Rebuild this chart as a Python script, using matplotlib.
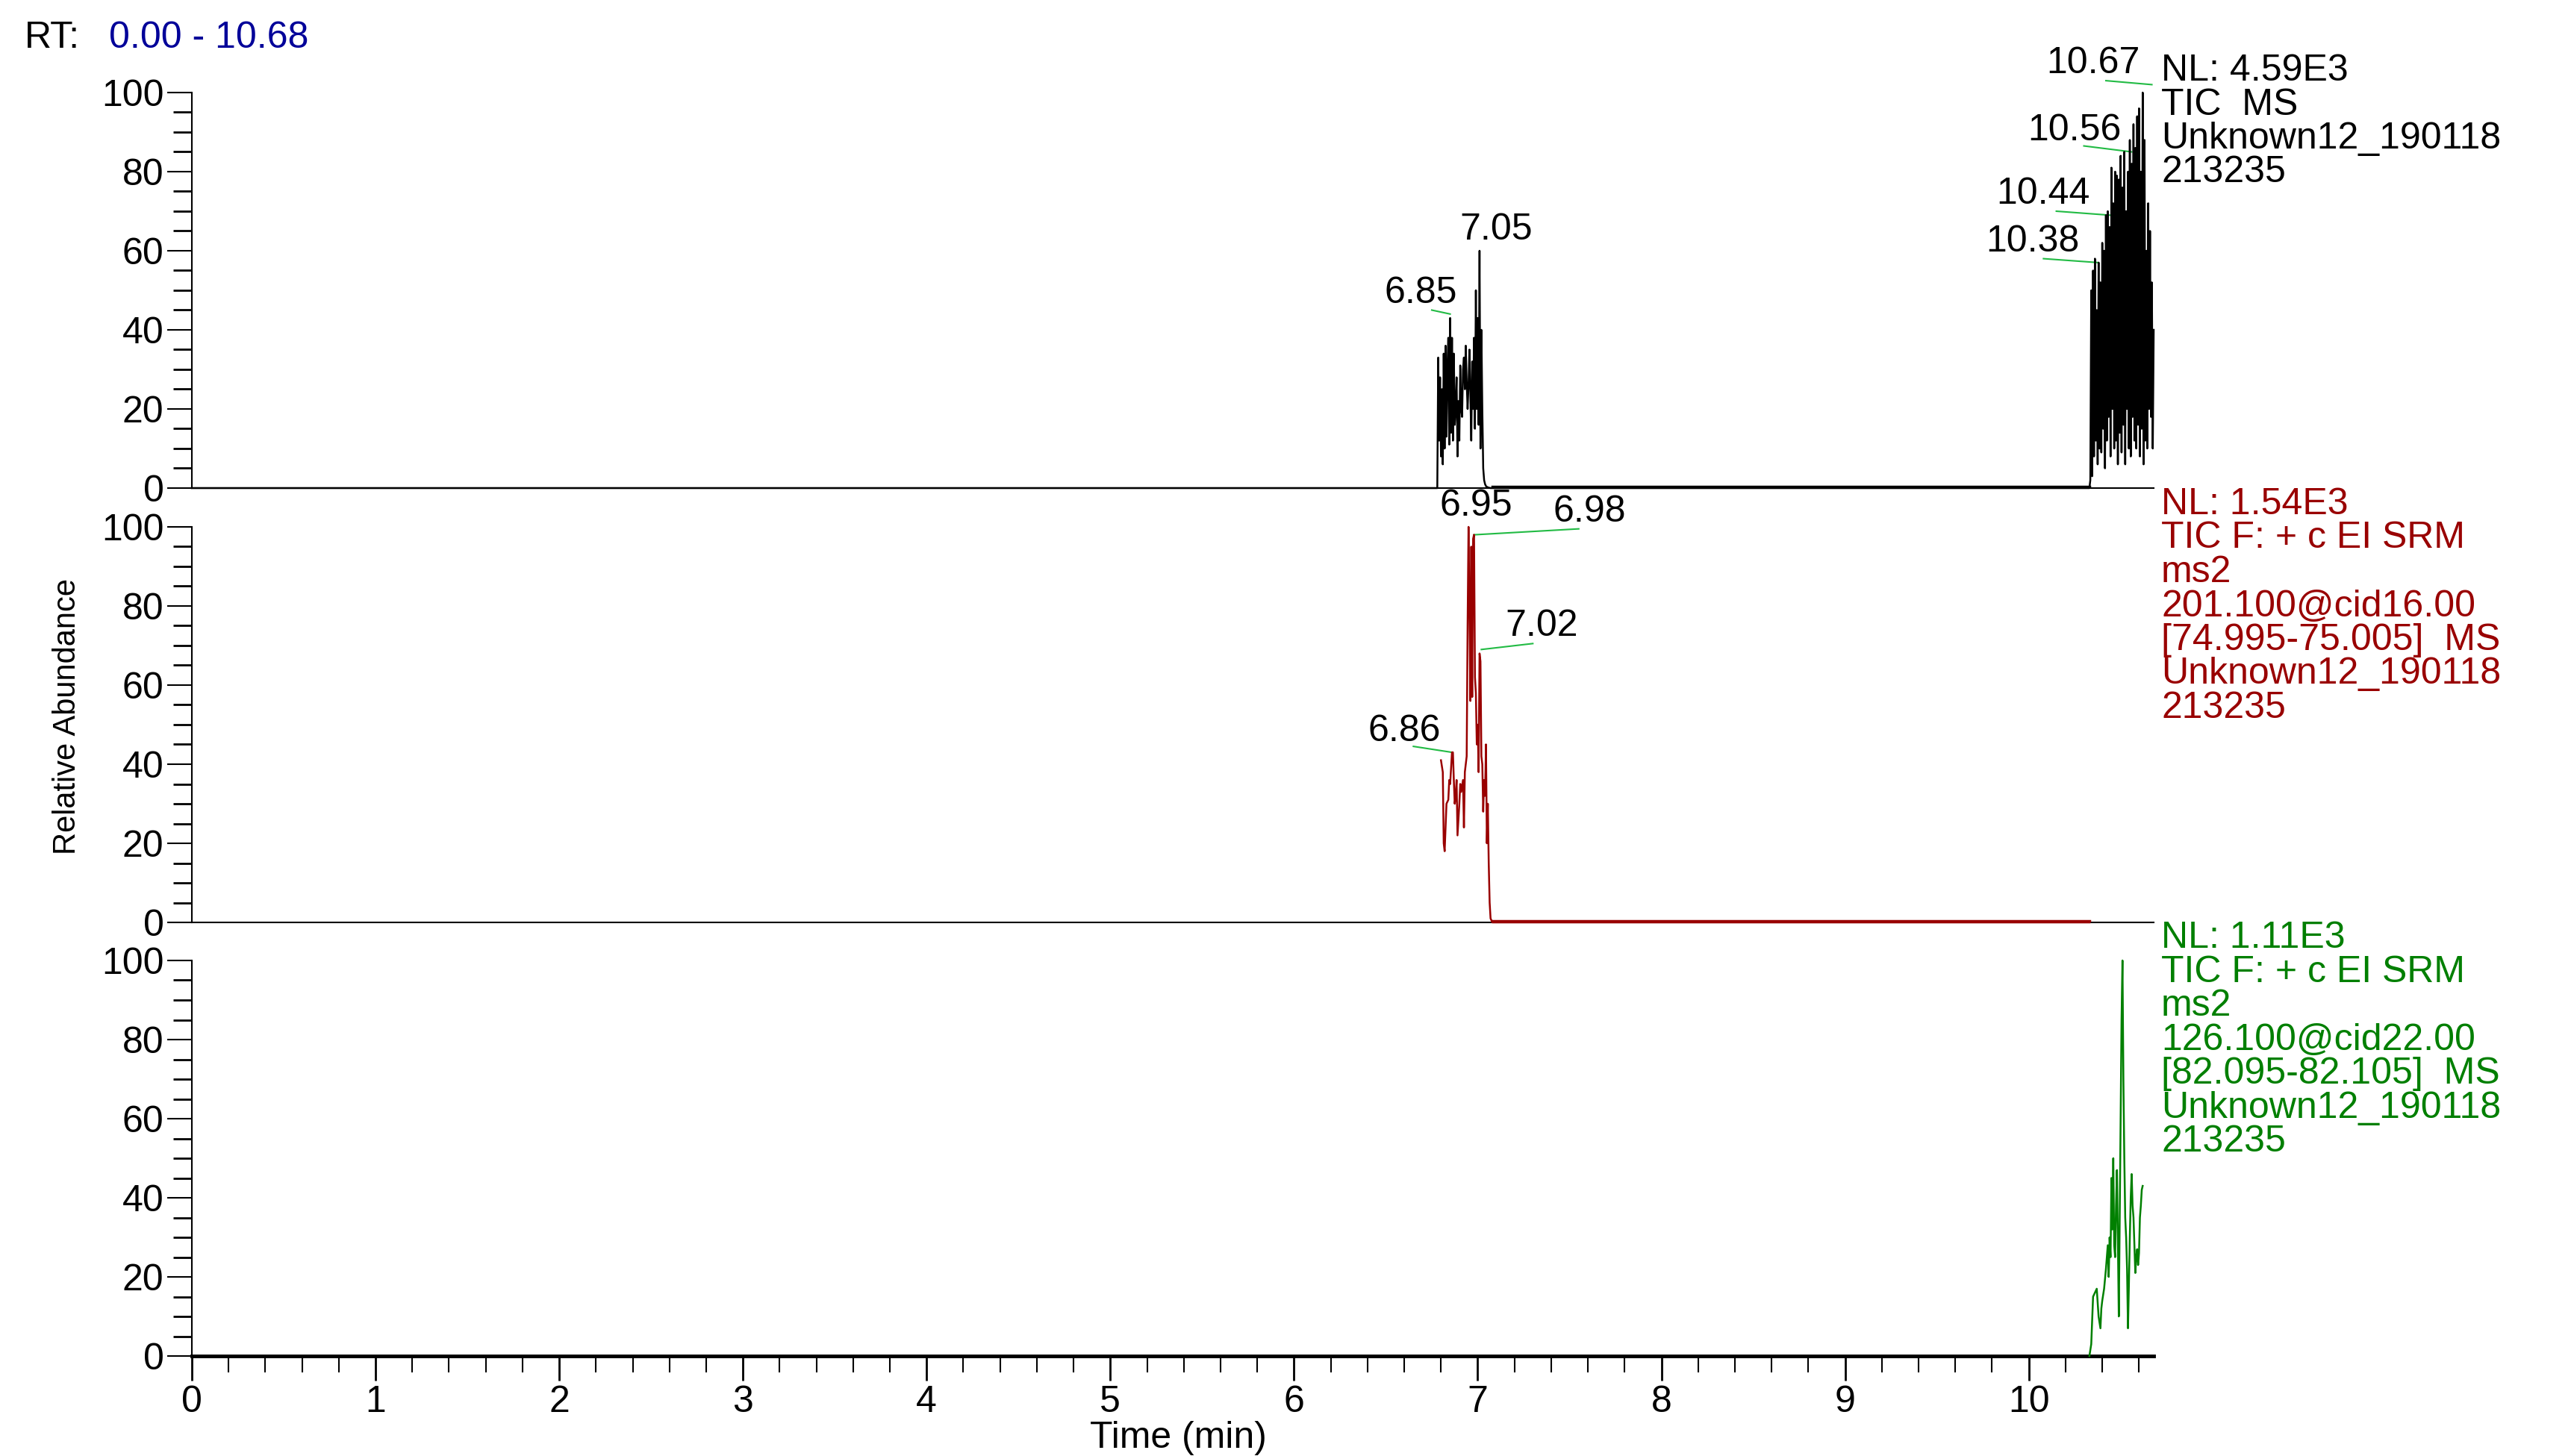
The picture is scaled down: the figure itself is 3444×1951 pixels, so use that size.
import matplotlib
matplotlib.use("Agg")
import matplotlib.pyplot as plt
from matplotlib.ticker import MultipleLocator

plt.rcParams['font.family'] = ['Liberation Sans', 'DejaVu Sans']

# ---- data ----
tic_t = [0.0, 6.78, 6.785, 6.79, 6.795, 6.80, 6.805, 6.81, 6.815, 6.82, 6.825, 6.83, 6.835, 6.84, 6.845,
         6.85, 6.855, 6.86, 6.865, 6.87, 6.875, 6.88, 6.885, 6.89, 6.895, 6.90, 6.905, 6.91, 6.915, 6.92,
         6.925, 6.93, 6.935, 6.94, 6.945, 6.95, 6.955, 6.96, 6.965, 6.97, 6.975, 6.98, 6.985, 6.99, 6.995,
         7.00, 7.005, 7.01, 7.015, 7.02, 7.025, 7.03, 7.035, 7.04, 7.045, 7.05, 7.055, 7.06, 7.065, 7.07, 7.08,
         10.33, 10.335, 10.34, 10.345, 10.35, 10.355, 10.36, 10.365, 10.37, 10.375, 10.38, 10.385, 10.39,
         10.395, 10.40, 10.405, 10.41, 10.415, 10.42, 10.425, 10.43, 10.435, 10.44, 10.445, 10.45, 10.455,
         10.46, 10.465, 10.47, 10.475, 10.48, 10.485, 10.49, 10.495, 10.50, 10.505, 10.51, 10.515, 10.52,
         10.525, 10.53, 10.535, 10.54, 10.545, 10.55, 10.555, 10.56, 10.565, 10.57, 10.575, 10.58, 10.585,
         10.59, 10.595, 10.60, 10.605, 10.61, 10.615, 10.62, 10.625, 10.63, 10.635, 10.64, 10.645, 10.65,
         10.655, 10.66, 10.665, 10.67, 10.675, 10.68]
tic_y = [0.0, 0.0, 33, 12, 28, 8, 25, 6, 34, 10, 36, 13, 30, 38, 11, 43, 14, 38, 12, 34, 16, 20, 28, 8,
         22, 12, 31, 20, 18, 30, 33, 25, 36, 27, 20, 26, 35, 24, 12, 32, 20, 38, 15, 50, 20, 43, 16, 60, 10,
         40, 20, 5, 2, 1, 0.5, 0.3, 0.2, 0.1, 0.05, 0.0, 0.0,
         0.0, 2, 50, 3, 55, 8, 58, 12, 45, 6, 57, 10, 52, 9, 62, 15, 60, 5, 69, 12, 70, 18, 66, 8, 81, 20,
         72, 10, 80, 12, 79, 6, 78, 14, 84, 9, 76, 16, 85, 6, 70, 20, 80, 10, 88, 8, 82, 18, 92, 12, 86, 10,
         94, 16, 96, 8, 80, 15, 100, 6, 88, 12, 60, 10, 72, 20, 65, 18, 52, 10, 40]

srm75_t = [6.80, 6.81, 6.815, 6.82, 6.83, 6.84, 6.845, 6.85, 6.86, 6.865, 6.87, 6.875, 6.88,
           6.885, 6.89, 6.90, 6.905, 6.91, 6.92, 6.925, 6.93, 6.94, 6.945, 6.95, 6.955, 6.96, 6.965, 6.97,
           6.975, 6.98, 6.985, 6.99, 6.995, 7.00, 7.005, 7.01, 7.015, 7.02, 7.025, 7.03, 7.035, 7.04,
           7.045, 7.05, 7.055, 7.06, 7.065, 7.07, 7.08, 10.33]
srm75_y = [41, 38, 20, 18, 30, 31, 36, 35, 43, 43, 36, 30, 32, 36, 22, 30, 35, 33, 36, 24, 38,
           42, 75, 100, 80, 56, 95, 57, 97, 98, 62, 58, 45, 50, 38, 68, 66, 42, 40, 28, 36, 32, 45, 20, 30,
           15, 5, 1, 0.0, 0.0]

srm82_t = [10.33, 10.34, 10.35, 10.36, 10.37, 10.38, 10.39, 10.395, 10.40, 10.41, 10.42, 10.43, 10.435,
           10.44, 10.445, 10.45, 10.455, 10.46, 10.465, 10.47, 10.475, 10.48, 10.485, 10.49, 10.495, 10.50,
           10.505, 10.51, 10.515, 10.52, 10.525, 10.53, 10.535, 10.54, 10.545, 10.55, 10.555, 10.56, 10.565,
           10.57, 10.575, 10.58, 10.585, 10.59, 10.595, 10.60, 10.605, 10.61, 10.615, 10.62]
srm82_y = [0.0, 3, 15, 16, 17, 10, 7, 12, 14, 17, 22, 28, 20, 30, 25, 45, 32, 50, 28, 25, 38, 47, 30, 10,
           35, 60, 85, 100, 70, 50, 35, 30, 22, 7, 18, 30, 40, 46, 38, 35, 28, 21, 25, 27, 23, 26, 35,
           38, 42, 43]

x_major = [0, 1, 2, 3, 4, 5, 6, 7, 8, 9, 10]
y_major = [0, 20, 40, 60, 80, 100]

top_peaks = [("7.05", 7.05, 60, 7.10, 61, None),
             ("6.85", 6.85, 44, 6.69, 45, (6.75, 45)),
             ("10.67", 10.67, 102, 10.35, 103, (10.42, 103)),
             ("10.56", 10.56, 85, 10.25, 86, (10.30, 86.5)),
             ("10.44", 10.44, 69, 10.08, 70, (10.15, 70)),
             ("10.38", 10.38, 57, 10.02, 58, (10.08, 58))]
mid_peaks = [("6.95", 6.95, 100, 6.99, 101, None),
             ("6.98", 6.98, 98, 7.61, 99.5, (7.55, 99.5)),
             ("7.02", 7.02, 69, 7.35, 70.5, (7.30, 70.5)),
             ("6.86", 6.86, 43, 6.60, 44, (6.65, 44.5))]

top_info = ["NL: 4.59E3", "TIC  MS", "Unknown12_190118", "213235"]
mid_info = ["NL: 1.54E3", "TIC F: + c EI SRM", "ms2", "201.100@cid16.00", "[74.995-75.005]  MS",
            "Unknown12_190118", "213235"]
bot_info = ["NL: 1.11E3", "TIC F: + c EI SRM", "ms2", "126.100@cid22.00", "[82.095-82.105]  MS",
            "Unknown12_190118", "213235"]

# ---- figure ----
W, H = 3444, 1951
fig = plt.figure(figsize=(W / 100, H / 100), dpi=100)
left, width = 257 / W, (2885 - 257) / W
ph = 530 / H
bottoms = [1 - 654 / H, 1 - 1236 / H, 1 - 1817 / H]
FS = 36

axes = []
for b in bottoms:
    ax = fig.add_axes([left, b, width, ph])
    ax.set_xlim(0, 10.68)
    ax.set_ylim(0, 100)
    for s in ("top", "right"):
        ax.spines[s].set_visible(False)
    ax.spines["left"].set_linewidth(1.5)
    ax.spines["bottom"].set_linewidth(1.5)
    ax.set_yticks(y_major)
    ax.yaxis.set_minor_locator(MultipleLocator(5))
    ax.tick_params(axis="y", which="major", length=24, width=1.5, labelsize=FS, pad=3)
    ax.tick_params(axis="y", which="minor", length=18, width=2)
    ax.patch.set_alpha(0)
    axes.append(ax)

ax_top, ax_mid, ax_bot = axes
for ax in (ax_top, ax_mid):
    ax.tick_params(axis="x", which="both", bottom=False, labelbottom=False)

ax_bot.set_xticks(x_major)
ax_bot.xaxis.set_minor_locator(MultipleLocator(0.2))
ax_bot.tick_params(axis="x", which="major", length=24, width=2, labelsize=FS, pad=4)
ax_bot.tick_params(axis="x", which="minor", length=16, width=1.5)
ax_bot.spines["bottom"].set_linewidth(3.5)

ax_top.plot(tic_t, tic_y, color="black", lw=1.8, clip_on=False, zorder=5)
ax_top.plot([7.08, 10.33], [0.4, 0.4], color="black", lw=2.5, clip_on=False, zorder=5)
ax_mid.plot(srm75_t, srm75_y, color="#990000", lw=1.8, clip_on=False, zorder=5)
ax_mid.plot([7.08, 10.33], [0.4, 0.4], color="#990000", lw=2.5, clip_on=False, zorder=5)
ax_bot.plot(srm82_t, srm82_y, color="#008000", lw=1.8, clip_on=False, zorder=5)

green = "#22bb44"
for ax, peaks in ((ax_top, top_peaks), (ax_mid, mid_peaks)):
    for lab, px, py, tx, ty, ls in peaks:
        ax.text(tx, ty, lab, ha="center", va="bottom", fontsize=FS, color="black", clip_on=False)
        if ls is not None:
            ax.plot([ls[0], px], [ls[1], py], color=green, lw=1.5, clip_on=False)

def info(lines, y0, color):
    for i, s in enumerate(lines):
        fig.text(2895 / W, 1 - (y0 + i * 45.5) / H, s, ha="left", va="center", fontsize=FS, color=color)

info(top_info, 95, "black")
info(mid_info, 676, "#990000")
info(bot_info, 1257, "#007f00")

fig.text(33 / W, 1 - 51 / H, "RT:", fontsize=FS, va="center", ha="left")
fig.text(146 / W, 1 - 51 / H, "0.00 - 10.68", fontsize=FS, va="center", ha="left", color="#000099")
fig.text(1578 / W, 1 - 1927 / H, "Time (min)", fontsize=FS, ha="center", va="center")
fig.text(90 / W, 1 - 960 / H, "Relative Abundance", fontsize=30, rotation=90, ha="center", va="center")

fig.savefig("out.png", dpi=100)
